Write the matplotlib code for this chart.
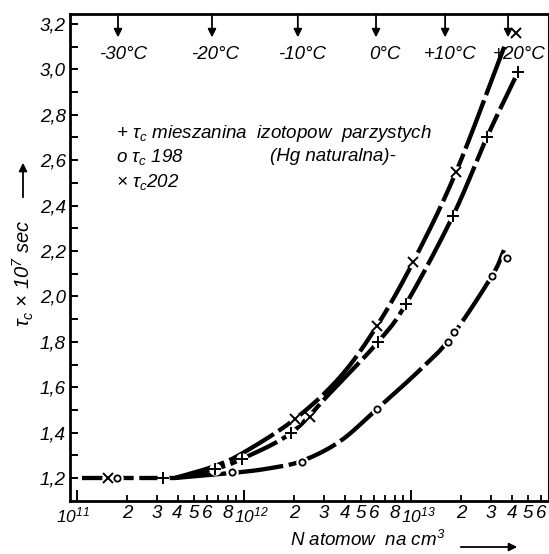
import numpy as np
import matplotlib
matplotlib.use("Agg")
import matplotlib.pyplot as plt
import matplotlib.patches as mpatches
from matplotlib.ticker import FixedLocator, FixedFormatter
import matplotlib.transforms as mtransforms

# ---- measured points -------------------------------------------------------
# tau_c for the mixture of even isotopes (natural Hg)
mix_N = [3.27e11, 6.7e11, 9.7e11, 1.91e12, 6.34e12, 9.33e12, 1.78e13, 2.85e13, 4.37e13]
mix_tau = [1.20, 1.24, 1.284, 1.398, 1.799, 1.967, 2.354, 2.702, 2.989]

# tau_c for Hg-198
hg198_N = [1.74e11, 8.47e11, 2.22e12, 6.25e12, 1.67e13, 1.81e13, 3.05e13, 3.76e13]
hg198_tau = [1.20, 1.226, 1.270, 1.504, 1.799, 1.843, 2.090, 2.169]

# tau_c for Hg-202
hg202_N = [1.53e11, 2.02e12, 2.48e12, 6.25e12, 1.03e13, 1.86e13, 4.26e13]
hg202_tau = [1.20, 1.46, 1.469, 1.870, 2.152, 2.548, 3.16]

# ---- hand-drawn curves (knots along each line) -----------------------------
flat_N = [1.07e11, 3.86e11]
flat_tau = [1.20, 1.20]

curve202_N = [3.86e11, 6.7e11, 1.01e12, 2.02e12, 3.76e12, 6.25e12, 1.03e13, 1.86e13, 3.71e13]
curve202_tau = [1.20, 1.253, 1.315, 1.460, 1.645, 1.870, 2.152, 2.548, 3.121]

curvemix_N = [3.86e11, 6.7e11, 9.7e11, 1.91e12, 3.27e12, 6.34e12, 9.33e12, 1.78e13, 2.85e13, 4.2e13]
curvemix_tau = [1.20, 1.240, 1.284, 1.398, 1.574, 1.799, 1.967, 2.354, 2.702, 2.962]

curve198_N = [3.86e11, 8.47e11, 1.4e12, 2.22e12, 3.76e12, 6.25e12, 1.13e13, 1.74e13, 3.05e13, 3.6e13]
curve198_tau = [1.20, 1.222, 1.242, 1.275, 1.362, 1.504, 1.676, 1.821, 2.090, 2.204]

# ---- temperature scale along the top ---------------------------------------
temp_N = [1.76e11, 6.43e11, 2.1e12, 6.17e12, 1.6e13, 3.81e13]
temp_labels = ["-30°C", "-20°C", "-10°C", "0°C", "+10°C", "+20°C"]

# ---- axis ticks --------------------------------------------------------------
y_major = [1.2, 1.4, 1.6, 1.8, 2.0, 2.2, 2.4, 2.6, 2.8, 3.0, 3.2]
y_major_labels = ["1,2", "1,4", "1,6", "1,8", "2,0", "2,2", "2,4", "2,6", "2,8", "3,0", "3,2"]
y_minor = [1.3, 1.5, 1.7, 1.9, 2.1, 2.3, 2.5, 2.7, 2.9, 3.1]

x_major = [1e11, 1e12, 1e13]
x_major_labels = [r"$10^{11}$", r"$10^{12}$", r"$10^{13}$"]
x_minor_mult = [2, 3, 4, 5, 6, 7, 8, 9]
x_minor_labels = ["2", "3", "4", "5", "6", "", "8", ""]


def smooth_path(xs, ys, n=24):
    """Catmull-Rom path through the knots, in log10(N) space."""
    P = np.column_stack([np.log10(xs), ys])
    P = np.vstack([2 * P[0] - P[1], P, 2 * P[-1] - P[-2]])
    t = np.linspace(0, 1, n, endpoint=False)[:, None]
    segs = []
    for i in range(1, len(P) - 2):
        p0, p1, p2, p3 = P[i - 1], P[i], P[i + 1], P[i + 2]
        segs.append(0.5 * (2 * p1 + (-p0 + p2) * t
                           + (2 * p0 - 5 * p1 + 4 * p2 - p3) * t ** 2
                           + (-p0 + 3 * p1 - 3 * p2 + p3) * t ** 3))
    segs.append(P[-2][None, :])
    pts = np.vstack(segs)
    return 10 ** pts[:, 0], pts[:, 1]


# ---- style -------------------------------------------------------------------
plt.rcParams["font.family"] = ["Liberation Sans", "DejaVu Sans"]
plt.rcParams["font.style"] = "italic"
plt.rcParams["mathtext.fontset"] = "custom"
plt.rcParams["mathtext.rm"] = "Liberation Sans:italic"
plt.rcParams["mathtext.it"] = "Liberation Sans:italic"
plt.rcParams["mathtext.sf"] = "Liberation Sans:italic"

FS = 13.5

fig = plt.figure(figsize=(5.49, 5.54), dpi=100)
ax = fig.add_axes([70 / 549, 53 / 554, 479 / 549, 487 / 554])
ax.set_xscale("log")
ax.set_xlim(9.08e10, 6.7e13)
ax.set_ylim(1.0987, 3.244)

for side in ["left", "bottom", "top"]:
    ax.spines[side].set_linewidth(2.0)
ax.spines["right"].set_linewidth(1.5)

# y axis
ax.yaxis.set_major_locator(FixedLocator(y_major))
ax.yaxis.set_major_formatter(FixedFormatter(y_major_labels))
ax.yaxis.set_minor_locator(FixedLocator(y_minor))
ax.tick_params(axis="y", which="both", direction="in", length=6, width=1.4,
               labelsize=FS, pad=3)

# x axis
minor_pos, minor_lab = [], []
for dec in [1e11, 1e12, 1e13]:
    for m, lab in zip(x_minor_mult, x_minor_labels):
        v = m * dec
        if v <= 6.5e13:
            minor_pos.append(v)
            minor_lab.append(lab)
ax.xaxis.set_major_locator(FixedLocator(x_major))
ax.xaxis.set_major_formatter(FixedFormatter(x_major_labels))
ax.xaxis.set_minor_locator(FixedLocator(minor_pos))
ax.xaxis.set_minor_formatter(FixedFormatter(minor_lab))
ax.tick_params(axis="x", which="major", direction="in", length=8, width=1.4,
               labelsize=12.5, pad=3)
ax.tick_params(axis="x", which="minor", direction="in", length=4.5, width=1.3,
               labelsize=FS, pad=3)
ax.tick_params(top=False, right=False, which="both")

# nudge the power-of-ten labels so they clear the "8" beside them
major_shift = [-4, 7, 7]
for lab, dx in zip(ax.xaxis.get_majorticklabels(), major_shift):
    lab.set_transform(lab.get_transform()
                      + mtransforms.ScaledTranslation(dx / 100, 0, fig.dpi_scale_trans))

# curves: thick long dashes
line_kw = dict(color="black", lw=3.1, dash_capstyle="butt", zorder=2)
ln, = ax.plot(flat_N, flat_tau, **line_kw)
ln.set_dashes((12, 1.3))
for xs, ys in [(curve202_N, curve202_tau), (curvemix_N, curvemix_tau),
               (curve198_N, curve198_tau)]:
    sx, sy = smooth_path(xs, ys)
    ln, = ax.plot(sx, sy, **line_kw)
    ln.set_dashes((12, 1.3))

# white gaps where the markers sit
for xs, ys in [(mix_N, mix_tau), (hg198_N, hg198_tau), (hg202_N, hg202_tau)]:
    ax.plot(xs, ys, "o", ms=9, mfc="white", mec="none", zorder=3, clip_on=False)

ax.plot(mix_N, mix_tau, "+", ms=8, mew=1.4, color="black", zorder=4, clip_on=False)
ax.plot(hg202_N, hg202_tau, "x", ms=7, mew=1.4, color="black", zorder=4, clip_on=False)
ax.plot(hg198_N, hg198_tau, "o", ms=4.5, mew=1.3, mfc="white", mec="black",
        zorder=4, clip_on=False)

# temperature arrows from the top edge
trans = mtransforms.blended_transform_factory(ax.transData, ax.transAxes)
label_shift = [5, 3, 4, 9, 5, 11]
for n, lab, dx in zip(temp_N, temp_labels, label_shift):
    ax.annotate("", xy=(n, 0.952), xytext=(n, 1.0), xycoords=trans, textcoords=trans,
                arrowprops=dict(arrowstyle="-|>", lw=1.3, color="black",
                                mutation_scale=12, shrinkA=0, shrinkB=0))
    ax.text(n, 0.916, lab, ha="center", va="center", fontsize=FS,
            transform=trans + mtransforms.ScaledTranslation(dx / 100, 0,
                                                            fig.dpi_scale_trans))

# key
ax.text(0.096, 0.7536, r"+ $\tau_c$ mieszanina  izotopow  parzystych",
        transform=ax.transAxes, ha="left", va="center", fontsize=FS)
ax.text(0.096, 0.7064, r"o $\tau_c$ 198", transform=ax.transAxes,
        ha="left", va="center", fontsize=FS)
ax.text(0.4175, 0.7064, "(Hg naturalna)-", transform=ax.transAxes,
        ha="left", va="center", fontsize=FS)
ax.text(0.096, 0.655, r"× $\tau_c$202", transform=ax.transAxes,
        ha="left", va="center", fontsize=FS)

# axis titles with arrows
fig.text(23 / 549, 1 - 327 / 554, r"$\tau_c$ × 10$^7$ sec", rotation=90,
         ha="center", va="bottom", fontsize=14.5)
fig.patches.append(mpatches.FancyArrowPatch(
    (23 / 549, 1 - 200 / 554), (23 / 549, 1 - 160 / 554),
    transform=fig.transFigure, arrowstyle="-|>", mutation_scale=12,
    lw=1.3, color="black"))

fig.text(290 / 549, 1 - 540 / 554, r"N atomow  na cm$^3$", ha="left",
         va="center", fontsize=FS)
fig.patches.append(mpatches.FancyArrowPatch(
    (458 / 549, 1 - 547 / 554), (520 / 549, 1 - 547 / 554),
    transform=fig.transFigure, arrowstyle="-|>", mutation_scale=12,
    lw=1.3, color="black"))

fig.savefig("out.png", dpi=100)
